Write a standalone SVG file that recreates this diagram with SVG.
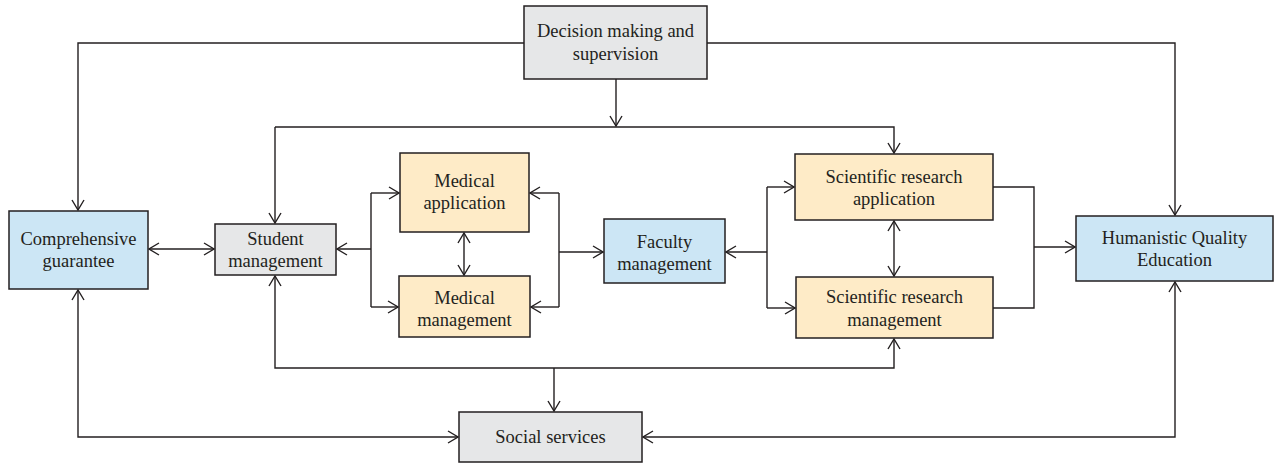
<svg xmlns="http://www.w3.org/2000/svg" width="1274" height="464" viewBox="0 0 1274 464">
<defs>
<marker id="ah" viewBox="0 0 12 14" refX="11" refY="7" markerWidth="12" markerHeight="14" markerUnits="userSpaceOnUse" orient="auto-start-reverse">
<path d="M1,1 L11,7 L1,13" fill="none" stroke="#231f20" stroke-width="1.4"/>
</marker>
<style>
.box{stroke:#231f20;stroke-width:1.5}
.gray{fill:#e6e7e8}
.blue{fill:#cce6f5}
.yel{fill:#feebc7}
text{font-family:"Liberation Serif","Times New Roman",serif;font-size:18.5px;fill:#231f20;text-anchor:middle}
.c path{fill:none;stroke:#231f20;stroke-width:1.4}
</style>
</defs>
<rect width="1274" height="464" fill="#ffffff"/>
<g class="c" id="connectors">
<path d="M524,43 H78 V210" marker-end="url(#ah)"/>
<path d="M707,43 H1175 V215" marker-end="url(#ah)"/>
<path d="M616,79 V126" marker-end="url(#ah)"/>
<path d="M275,127 H894 V153" marker-end="url(#ah)"/>
<path d="M275,127 V223" marker-end="url(#ah)"/>
<path d="M149,249 H214" marker-start="url(#ah)" marker-end="url(#ah)"/>
<path d="M371,249 H337" marker-end="url(#ah)"/>
<path d="M371,193 V307"/>
<path d="M371,193 H399" marker-end="url(#ah)"/>
<path d="M371,307 H398" marker-end="url(#ah)"/>
<path d="M464,233 V275" marker-start="url(#ah)" marker-end="url(#ah)"/>
<path d="M559,193 H530" marker-end="url(#ah)"/>
<path d="M559,307 H531" marker-end="url(#ah)"/>
<path d="M559,193 V307"/>
<path d="M559,252 H603" marker-end="url(#ah)"/>
<path d="M767,252 H726" marker-end="url(#ah)"/>
<path d="M767,187 V308"/>
<path d="M767,187 H794" marker-end="url(#ah)"/>
<path d="M767,308 H795" marker-end="url(#ah)"/>
<path d="M894,221 V276" marker-start="url(#ah)" marker-end="url(#ah)"/>
<path d="M993,187 H1034 V308 H993"/>
<path d="M1034,247 H1075" marker-end="url(#ah)"/>
<path d="M275,276 V368 H894 V339" marker-start="url(#ah)" marker-end="url(#ah)"/>
<path d="M554,368 V411" marker-end="url(#ah)"/>
<path d="M78,290 V437 H458" marker-start="url(#ah)" marker-end="url(#ah)"/>
<path d="M643,437 H1175 V282" marker-start="url(#ah)" marker-end="url(#ah)"/>
</g>
<g id="decision">
<rect class="box gray" x="524" y="6" width="183" height="73"/>
<text x="615.5" y="37">Decision making and</text>
<text x="615.5" y="59.5">supervision</text>
</g>
<g id="comprehensive">
<rect class="box blue" x="9" y="211" width="139" height="78"/>
<text x="78.5" y="245">Comprehensive</text>
<text x="78.5" y="267">guarantee</text>
</g>
<g id="student">
<rect class="box gray" x="215" y="224" width="121" height="51"/>
<text x="275.5" y="245">Student</text>
<text x="275.5" y="267">management</text>
</g>
<g id="med-app">
<rect class="box yel" x="400" y="153" width="129" height="79"/>
<text x="464.5" y="186.5">Medical</text>
<text x="464.5" y="208.5">application</text>
</g>
<g id="med-mgmt">
<rect class="box yel" x="399" y="276" width="131" height="61"/>
<text x="464.5" y="304">Medical</text>
<text x="464.5" y="326">management</text>
</g>
<g id="faculty">
<rect class="box blue" x="604" y="219" width="121" height="64"/>
<text x="664.5" y="247.5">Faculty</text>
<text x="664.5" y="269.5">management</text>
</g>
<g id="sci-app">
<rect class="box yel" x="795" y="154" width="198" height="66"/>
<text x="894" y="182.5">Scientific research</text>
<text x="894" y="205">application</text>
</g>
<g id="sci-mgmt">
<rect class="box yel" x="796" y="277" width="197" height="61"/>
<text x="894.5" y="303">Scientific research</text>
<text x="894.5" y="325.5">management</text>
</g>
<g id="humanistic">
<rect class="box blue" x="1076" y="216" width="197" height="65"/>
<text x="1174.5" y="243.5">Humanistic Quality</text>
<text x="1174.5" y="265.5">Education</text>
</g>
<g id="social">
<rect class="box gray" x="459" y="412" width="183" height="50"/>
<text x="550.5" y="443">Social services</text>
</g>
</svg>
